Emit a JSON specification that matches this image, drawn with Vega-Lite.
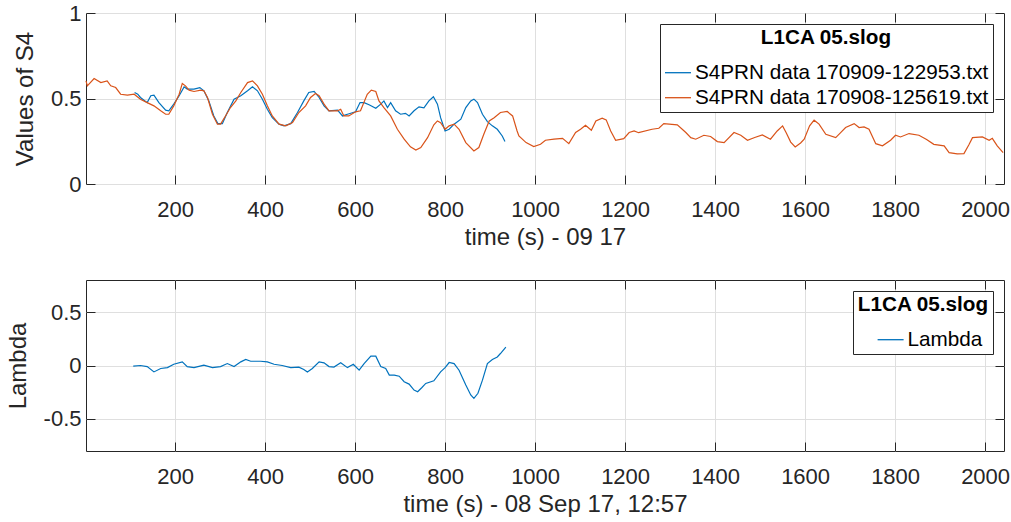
{
  "$schema": "https://vega.github.io/schema/vega-lite/v6.json",
  "background": "white",
  "padding": {"left": 5, "top": 1, "right": 2, "bottom": 3},
  "spacing": 29,
  "datasets": {
    "s4": [
      {"t": 110, "v": 0.535, "series": "S4PRN data 170909-122953.txt"},
      {"t": 117, "v": 0.525, "series": "S4PRN data 170909-122953.txt"},
      {"t": 123, "v": 0.506, "series": "S4PRN data 170909-122953.txt"},
      {"t": 138, "v": 0.476, "series": "S4PRN data 170909-122953.txt"},
      {"t": 146, "v": 0.516, "series": "S4PRN data 170909-122953.txt"},
      {"t": 153, "v": 0.52, "series": "S4PRN data 170909-122953.txt"},
      {"t": 164, "v": 0.476, "series": "S4PRN data 170909-122953.txt"},
      {"t": 179, "v": 0.432, "series": "S4PRN data 170909-122953.txt"},
      {"t": 186, "v": 0.428, "series": "S4PRN data 170909-122953.txt"},
      {"t": 197, "v": 0.467, "series": "S4PRN data 170909-122953.txt"},
      {"t": 209, "v": 0.516, "series": "S4PRN data 170909-122953.txt"},
      {"t": 220, "v": 0.568, "series": "S4PRN data 170909-122953.txt"},
      {"t": 227, "v": 0.555, "series": "S4PRN data 170909-122953.txt"},
      {"t": 242, "v": 0.555, "series": "S4PRN data 170909-122953.txt"},
      {"t": 255, "v": 0.564, "series": "S4PRN data 170909-122953.txt"},
      {"t": 264, "v": 0.545, "series": "S4PRN data 170909-122953.txt"},
      {"t": 275, "v": 0.486, "series": "S4PRN data 170909-122953.txt"},
      {"t": 286, "v": 0.398, "series": "S4PRN data 170909-122953.txt"},
      {"t": 295, "v": 0.353, "series": "S4PRN data 170909-122953.txt"},
      {"t": 305, "v": 0.353, "series": "S4PRN data 170909-122953.txt"},
      {"t": 316, "v": 0.418, "series": "S4PRN data 170909-122953.txt"},
      {"t": 331, "v": 0.496, "series": "S4PRN data 170909-122953.txt"},
      {"t": 346, "v": 0.516, "series": "S4PRN data 170909-122953.txt"},
      {"t": 361, "v": 0.545, "series": "S4PRN data 170909-122953.txt"},
      {"t": 372, "v": 0.568, "series": "S4PRN data 170909-122953.txt"},
      {"t": 383, "v": 0.545, "series": "S4PRN data 170909-122953.txt"},
      {"t": 394, "v": 0.496, "series": "S4PRN data 170909-122953.txt"},
      {"t": 405, "v": 0.437, "series": "S4PRN data 170909-122953.txt"},
      {"t": 416, "v": 0.388, "series": "S4PRN data 170909-122953.txt"},
      {"t": 431, "v": 0.35, "series": "S4PRN data 170909-122953.txt"},
      {"t": 442, "v": 0.34, "series": "S4PRN data 170909-122953.txt"},
      {"t": 457, "v": 0.353, "series": "S4PRN data 170909-122953.txt"},
      {"t": 472, "v": 0.418, "series": "S4PRN data 170909-122953.txt"},
      {"t": 486, "v": 0.486, "series": "S4PRN data 170909-122953.txt"},
      {"t": 497, "v": 0.535, "series": "S4PRN data 170909-122953.txt"},
      {"t": 509, "v": 0.541, "series": "S4PRN data 170909-122953.txt"},
      {"t": 520, "v": 0.506, "series": "S4PRN data 170909-122953.txt"},
      {"t": 531, "v": 0.457, "series": "S4PRN data 170909-122953.txt"},
      {"t": 542, "v": 0.428, "series": "S4PRN data 170909-122953.txt"},
      {"t": 561, "v": 0.432, "series": "S4PRN data 170909-122953.txt"},
      {"t": 572, "v": 0.398, "series": "S4PRN data 170909-122953.txt"},
      {"t": 583, "v": 0.408, "series": "S4PRN data 170909-122953.txt"},
      {"t": 601, "v": 0.422, "series": "S4PRN data 170909-122953.txt"},
      {"t": 611, "v": 0.476, "series": "S4PRN data 170909-122953.txt"},
      {"t": 620, "v": 0.476, "series": "S4PRN data 170909-122953.txt"},
      {"t": 631, "v": 0.463, "series": "S4PRN data 170909-122953.txt"},
      {"t": 646, "v": 0.443, "series": "S4PRN data 170909-122953.txt"},
      {"t": 657, "v": 0.467, "series": "S4PRN data 170909-122953.txt"},
      {"t": 664, "v": 0.486, "series": "S4PRN data 170909-122953.txt"},
      {"t": 672, "v": 0.447, "series": "S4PRN data 170909-122953.txt"},
      {"t": 679, "v": 0.476, "series": "S4PRN data 170909-122953.txt"},
      {"t": 690, "v": 0.428, "series": "S4PRN data 170909-122953.txt"},
      {"t": 701, "v": 0.408, "series": "S4PRN data 170909-122953.txt"},
      {"t": 712, "v": 0.413, "series": "S4PRN data 170909-122953.txt"},
      {"t": 720, "v": 0.398, "series": "S4PRN data 170909-122953.txt"},
      {"t": 731, "v": 0.428, "series": "S4PRN data 170909-122953.txt"},
      {"t": 742, "v": 0.451, "series": "S4PRN data 170909-122953.txt"},
      {"t": 753, "v": 0.445, "series": "S4PRN data 170909-122953.txt"},
      {"t": 764, "v": 0.486, "series": "S4PRN data 170909-122953.txt"},
      {"t": 774, "v": 0.51, "series": "S4PRN data 170909-122953.txt"},
      {"t": 783, "v": 0.467, "series": "S4PRN data 170909-122953.txt"},
      {"t": 790, "v": 0.388, "series": "S4PRN data 170909-122953.txt"},
      {"t": 800, "v": 0.31, "series": "S4PRN data 170909-122953.txt"},
      {"t": 809, "v": 0.32, "series": "S4PRN data 170909-122953.txt"},
      {"t": 820, "v": 0.35, "series": "S4PRN data 170909-122953.txt"},
      {"t": 835, "v": 0.379, "series": "S4PRN data 170909-122953.txt"},
      {"t": 846, "v": 0.447, "series": "S4PRN data 170909-122953.txt"},
      {"t": 857, "v": 0.486, "series": "S4PRN data 170909-122953.txt"},
      {"t": 864, "v": 0.496, "series": "S4PRN data 170909-122953.txt"},
      {"t": 872, "v": 0.476, "series": "S4PRN data 170909-122953.txt"},
      {"t": 883, "v": 0.408, "series": "S4PRN data 170909-122953.txt"},
      {"t": 894, "v": 0.365, "series": "S4PRN data 170909-122953.txt"},
      {"t": 905, "v": 0.34, "series": "S4PRN data 170909-122953.txt"},
      {"t": 916, "v": 0.32, "series": "S4PRN data 170909-122953.txt"},
      {"t": 927, "v": 0.281, "series": "S4PRN data 170909-122953.txt"},
      {"t": 933, "v": 0.248, "series": "S4PRN data 170909-122953.txt"},
      {"t": 2, "v": 0.603, "series": "S4PRN data 170908-125619.txt"},
      {"t": 5, "v": 0.574, "series": "S4PRN data 170908-125619.txt"},
      {"t": 20, "v": 0.617, "series": "S4PRN data 170908-125619.txt"},
      {"t": 35, "v": 0.593, "series": "S4PRN data 170908-125619.txt"},
      {"t": 49, "v": 0.603, "series": "S4PRN data 170908-125619.txt"},
      {"t": 57, "v": 0.574, "series": "S4PRN data 170908-125619.txt"},
      {"t": 68, "v": 0.564, "series": "S4PRN data 170908-125619.txt"},
      {"t": 79, "v": 0.525, "series": "S4PRN data 170908-125619.txt"},
      {"t": 94, "v": 0.52, "series": "S4PRN data 170908-125619.txt"},
      {"t": 109, "v": 0.525, "series": "S4PRN data 170908-125619.txt"},
      {"t": 123, "v": 0.496, "series": "S4PRN data 170908-125619.txt"},
      {"t": 138, "v": 0.476, "series": "S4PRN data 170908-125619.txt"},
      {"t": 153, "v": 0.457, "series": "S4PRN data 170908-125619.txt"},
      {"t": 168, "v": 0.428, "series": "S4PRN data 170908-125619.txt"},
      {"t": 179, "v": 0.408, "series": "S4PRN data 170908-125619.txt"},
      {"t": 186, "v": 0.408, "series": "S4PRN data 170908-125619.txt"},
      {"t": 197, "v": 0.457, "series": "S4PRN data 170908-125619.txt"},
      {"t": 209, "v": 0.525, "series": "S4PRN data 170908-125619.txt"},
      {"t": 216, "v": 0.588, "series": "S4PRN data 170908-125619.txt"},
      {"t": 223, "v": 0.574, "series": "S4PRN data 170908-125619.txt"},
      {"t": 231, "v": 0.549, "series": "S4PRN data 170908-125619.txt"},
      {"t": 242, "v": 0.541, "series": "S4PRN data 170908-125619.txt"},
      {"t": 257, "v": 0.549, "series": "S4PRN data 170908-125619.txt"},
      {"t": 264, "v": 0.545, "series": "S4PRN data 170908-125619.txt"},
      {"t": 272, "v": 0.506, "series": "S4PRN data 170908-125619.txt"},
      {"t": 283, "v": 0.408, "series": "S4PRN data 170908-125619.txt"},
      {"t": 294, "v": 0.35, "series": "S4PRN data 170908-125619.txt"},
      {"t": 301, "v": 0.35, "series": "S4PRN data 170908-125619.txt"},
      {"t": 312, "v": 0.398, "series": "S4PRN data 170908-125619.txt"},
      {"t": 323, "v": 0.447, "series": "S4PRN data 170908-125619.txt"},
      {"t": 335, "v": 0.486, "series": "S4PRN data 170908-125619.txt"},
      {"t": 346, "v": 0.535, "series": "S4PRN data 170908-125619.txt"},
      {"t": 361, "v": 0.593, "series": "S4PRN data 170908-125619.txt"},
      {"t": 372, "v": 0.603, "series": "S4PRN data 170908-125619.txt"},
      {"t": 383, "v": 0.574, "series": "S4PRN data 170908-125619.txt"},
      {"t": 394, "v": 0.525, "series": "S4PRN data 170908-125619.txt"},
      {"t": 405, "v": 0.457, "series": "S4PRN data 170908-125619.txt"},
      {"t": 416, "v": 0.398, "series": "S4PRN data 170908-125619.txt"},
      {"t": 431, "v": 0.35, "series": "S4PRN data 170908-125619.txt"},
      {"t": 446, "v": 0.34, "series": "S4PRN data 170908-125619.txt"},
      {"t": 461, "v": 0.359, "series": "S4PRN data 170908-125619.txt"},
      {"t": 475, "v": 0.418, "series": "S4PRN data 170908-125619.txt"},
      {"t": 490, "v": 0.457, "series": "S4PRN data 170908-125619.txt"},
      {"t": 501, "v": 0.506, "series": "S4PRN data 170908-125619.txt"},
      {"t": 512, "v": 0.529, "series": "S4PRN data 170908-125619.txt"},
      {"t": 520, "v": 0.516, "series": "S4PRN data 170908-125619.txt"},
      {"t": 531, "v": 0.467, "series": "S4PRN data 170908-125619.txt"},
      {"t": 542, "v": 0.428, "series": "S4PRN data 170908-125619.txt"},
      {"t": 561, "v": 0.428, "series": "S4PRN data 170908-125619.txt"},
      {"t": 568, "v": 0.437, "series": "S4PRN data 170908-125619.txt"},
      {"t": 575, "v": 0.398, "series": "S4PRN data 170908-125619.txt"},
      {"t": 586, "v": 0.398, "series": "S4PRN data 170908-125619.txt"},
      {"t": 601, "v": 0.422, "series": "S4PRN data 170908-125619.txt"},
      {"t": 612, "v": 0.428, "series": "S4PRN data 170908-125619.txt"},
      {"t": 627, "v": 0.525, "series": "S4PRN data 170908-125619.txt"},
      {"t": 636, "v": 0.549, "series": "S4PRN data 170908-125619.txt"},
      {"t": 646, "v": 0.541, "series": "S4PRN data 170908-125619.txt"},
      {"t": 653, "v": 0.486, "series": "S4PRN data 170908-125619.txt"},
      {"t": 664, "v": 0.447, "series": "S4PRN data 170908-125619.txt"},
      {"t": 679, "v": 0.398, "series": "S4PRN data 170908-125619.txt"},
      {"t": 694, "v": 0.32, "series": "S4PRN data 170908-125619.txt"},
      {"t": 709, "v": 0.262, "series": "S4PRN data 170908-125619.txt"},
      {"t": 723, "v": 0.217, "series": "S4PRN data 170908-125619.txt"},
      {"t": 735, "v": 0.199, "series": "S4PRN data 170908-125619.txt"},
      {"t": 746, "v": 0.213, "series": "S4PRN data 170908-125619.txt"},
      {"t": 761, "v": 0.271, "series": "S4PRN data 170908-125619.txt"},
      {"t": 775, "v": 0.346, "series": "S4PRN data 170908-125619.txt"},
      {"t": 783, "v": 0.369, "series": "S4PRN data 170908-125619.txt"},
      {"t": 790, "v": 0.359, "series": "S4PRN data 170908-125619.txt"},
      {"t": 800, "v": 0.32, "series": "S4PRN data 170908-125619.txt"},
      {"t": 809, "v": 0.34, "series": "S4PRN data 170908-125619.txt"},
      {"t": 820, "v": 0.35, "series": "S4PRN data 170908-125619.txt"},
      {"t": 831, "v": 0.32, "series": "S4PRN data 170908-125619.txt"},
      {"t": 846, "v": 0.242, "series": "S4PRN data 170908-125619.txt"},
      {"t": 864, "v": 0.193, "series": "S4PRN data 170908-125619.txt"},
      {"t": 875, "v": 0.213, "series": "S4PRN data 170908-125619.txt"},
      {"t": 886, "v": 0.291, "series": "S4PRN data 170908-125619.txt"},
      {"t": 898, "v": 0.369, "series": "S4PRN data 170908-125619.txt"},
      {"t": 909, "v": 0.388, "series": "S4PRN data 170908-125619.txt"},
      {"t": 923, "v": 0.418, "series": "S4PRN data 170908-125619.txt"},
      {"t": 938, "v": 0.424, "series": "S4PRN data 170908-125619.txt"},
      {"t": 950, "v": 0.398, "series": "S4PRN data 170908-125619.txt"},
      {"t": 960, "v": 0.31, "series": "S4PRN data 170908-125619.txt"},
      {"t": 964, "v": 0.281, "series": "S4PRN data 170908-125619.txt"},
      {"t": 980, "v": 0.242, "series": "S4PRN data 170908-125619.txt"},
      {"t": 997, "v": 0.219, "series": "S4PRN data 170908-125619.txt"},
      {"t": 1012, "v": 0.232, "series": "S4PRN data 170908-125619.txt"},
      {"t": 1023, "v": 0.256, "series": "S4PRN data 170908-125619.txt"},
      {"t": 1042, "v": 0.262, "series": "S4PRN data 170908-125619.txt"},
      {"t": 1061, "v": 0.267, "series": "S4PRN data 170908-125619.txt"},
      {"t": 1075, "v": 0.236, "series": "S4PRN data 170908-125619.txt"},
      {"t": 1090, "v": 0.301, "series": "S4PRN data 170908-125619.txt"},
      {"t": 1101, "v": 0.32, "series": "S4PRN data 170908-125619.txt"},
      {"t": 1112, "v": 0.344, "series": "S4PRN data 170908-125619.txt"},
      {"t": 1125, "v": 0.314, "series": "S4PRN data 170908-125619.txt"},
      {"t": 1135, "v": 0.369, "series": "S4PRN data 170908-125619.txt"},
      {"t": 1149, "v": 0.385, "series": "S4PRN data 170908-125619.txt"},
      {"t": 1158, "v": 0.375, "series": "S4PRN data 170908-125619.txt"},
      {"t": 1168, "v": 0.31, "series": "S4PRN data 170908-125619.txt"},
      {"t": 1179, "v": 0.256, "series": "S4PRN data 170908-125619.txt"},
      {"t": 1197, "v": 0.265, "series": "S4PRN data 170908-125619.txt"},
      {"t": 1209, "v": 0.301, "series": "S4PRN data 170908-125619.txt"},
      {"t": 1220, "v": 0.31, "series": "S4PRN data 170908-125619.txt"},
      {"t": 1230, "v": 0.3, "series": "S4PRN data 170908-125619.txt"},
      {"t": 1260, "v": 0.32, "series": "S4PRN data 170908-125619.txt"},
      {"t": 1275, "v": 0.326, "series": "S4PRN data 170908-125619.txt"},
      {"t": 1286, "v": 0.353, "series": "S4PRN data 170908-125619.txt"},
      {"t": 1316, "v": 0.346, "series": "S4PRN data 170908-125619.txt"},
      {"t": 1335, "v": 0.301, "series": "S4PRN data 170908-125619.txt"},
      {"t": 1346, "v": 0.271, "series": "S4PRN data 170908-125619.txt"},
      {"t": 1357, "v": 0.262, "series": "S4PRN data 170908-125619.txt"},
      {"t": 1375, "v": 0.285, "series": "S4PRN data 170908-125619.txt"},
      {"t": 1390, "v": 0.278, "series": "S4PRN data 170908-125619.txt"},
      {"t": 1405, "v": 0.248, "series": "S4PRN data 170908-125619.txt"},
      {"t": 1420, "v": 0.242, "series": "S4PRN data 170908-125619.txt"},
      {"t": 1442, "v": 0.301, "series": "S4PRN data 170908-125619.txt"},
      {"t": 1457, "v": 0.285, "series": "S4PRN data 170908-125619.txt"},
      {"t": 1472, "v": 0.256, "series": "S4PRN data 170908-125619.txt"},
      {"t": 1488, "v": 0.272, "series": "S4PRN data 170908-125619.txt"},
      {"t": 1505, "v": 0.287, "series": "S4PRN data 170908-125619.txt"},
      {"t": 1523, "v": 0.262, "series": "S4PRN data 170908-125619.txt"},
      {"t": 1538, "v": 0.31, "series": "S4PRN data 170908-125619.txt"},
      {"t": 1550, "v": 0.34, "series": "S4PRN data 170908-125619.txt"},
      {"t": 1558, "v": 0.3, "series": "S4PRN data 170908-125619.txt"},
      {"t": 1568, "v": 0.245, "series": "S4PRN data 170908-125619.txt"},
      {"t": 1578, "v": 0.217, "series": "S4PRN data 170908-125619.txt"},
      {"t": 1590, "v": 0.24, "series": "S4PRN data 170908-125619.txt"},
      {"t": 1598, "v": 0.262, "series": "S4PRN data 170908-125619.txt"},
      {"t": 1610, "v": 0.34, "series": "S4PRN data 170908-125619.txt"},
      {"t": 1620, "v": 0.373, "series": "S4PRN data 170908-125619.txt"},
      {"t": 1631, "v": 0.35, "series": "S4PRN data 170908-125619.txt"},
      {"t": 1646, "v": 0.291, "series": "S4PRN data 170908-125619.txt"},
      {"t": 1668, "v": 0.271, "series": "S4PRN data 170908-125619.txt"},
      {"t": 1679, "v": 0.3, "series": "S4PRN data 170908-125619.txt"},
      {"t": 1690, "v": 0.33, "series": "S4PRN data 170908-125619.txt"},
      {"t": 1709, "v": 0.353, "series": "S4PRN data 170908-125619.txt"},
      {"t": 1720, "v": 0.33, "series": "S4PRN data 170908-125619.txt"},
      {"t": 1731, "v": 0.334, "series": "S4PRN data 170908-125619.txt"},
      {"t": 1742, "v": 0.32, "series": "S4PRN data 170908-125619.txt"},
      {"t": 1757, "v": 0.236, "series": "S4PRN data 170908-125619.txt"},
      {"t": 1772, "v": 0.223, "series": "S4PRN data 170908-125619.txt"},
      {"t": 1790, "v": 0.256, "series": "S4PRN data 170908-125619.txt"},
      {"t": 1801, "v": 0.285, "series": "S4PRN data 170908-125619.txt"},
      {"t": 1812, "v": 0.275, "series": "S4PRN data 170908-125619.txt"},
      {"t": 1831, "v": 0.295, "series": "S4PRN data 170908-125619.txt"},
      {"t": 1853, "v": 0.285, "series": "S4PRN data 170908-125619.txt"},
      {"t": 1870, "v": 0.26, "series": "S4PRN data 170908-125619.txt"},
      {"t": 1886, "v": 0.232, "series": "S4PRN data 170908-125619.txt"},
      {"t": 1909, "v": 0.223, "series": "S4PRN data 170908-125619.txt"},
      {"t": 1920, "v": 0.183, "series": "S4PRN data 170908-125619.txt"},
      {"t": 1938, "v": 0.176, "series": "S4PRN data 170908-125619.txt"},
      {"t": 1953, "v": 0.178, "series": "S4PRN data 170908-125619.txt"},
      {"t": 1964, "v": 0.23, "series": "S4PRN data 170908-125619.txt"},
      {"t": 1972, "v": 0.271, "series": "S4PRN data 170908-125619.txt"},
      {"t": 1994, "v": 0.275, "series": "S4PRN data 170908-125619.txt"},
      {"t": 2009, "v": 0.256, "series": "S4PRN data 170908-125619.txt"},
      {"t": 2016, "v": 0.267, "series": "S4PRN data 170908-125619.txt"},
      {"t": 2027, "v": 0.223, "series": "S4PRN data 170908-125619.txt"},
      {"t": 2040, "v": 0.183, "series": "S4PRN data 170908-125619.txt"}
    ],
    "lam": [
      {"t": 107, "v": -0.006, "series": "Lambda"},
      {"t": 123, "v": 0.0, "series": "Lambda"},
      {"t": 138, "v": -0.01, "series": "Lambda"},
      {"t": 153, "v": -0.06, "series": "Lambda"},
      {"t": 168, "v": -0.028, "series": "Lambda"},
      {"t": 183, "v": -0.02, "series": "Lambda"},
      {"t": 197, "v": 0.012, "series": "Lambda"},
      {"t": 216, "v": 0.034, "series": "Lambda"},
      {"t": 227, "v": -0.01, "series": "Lambda"},
      {"t": 242, "v": -0.02, "series": "Lambda"},
      {"t": 264, "v": 0.003, "series": "Lambda"},
      {"t": 283, "v": -0.02, "series": "Lambda"},
      {"t": 301, "v": -0.01, "series": "Lambda"},
      {"t": 316, "v": 0.018, "series": "Lambda"},
      {"t": 331, "v": -0.01, "series": "Lambda"},
      {"t": 346, "v": 0.034, "series": "Lambda"},
      {"t": 357, "v": 0.056, "series": "Lambda"},
      {"t": 368, "v": 0.04, "series": "Lambda"},
      {"t": 390, "v": 0.04, "series": "Lambda"},
      {"t": 405, "v": 0.034, "series": "Lambda"},
      {"t": 420, "v": 0.012, "series": "Lambda"},
      {"t": 438, "v": 0.0, "series": "Lambda"},
      {"t": 457, "v": -0.02, "series": "Lambda"},
      {"t": 475, "v": -0.015, "series": "Lambda"},
      {"t": 486, "v": -0.037, "series": "Lambda"},
      {"t": 494, "v": -0.06, "series": "Lambda"},
      {"t": 505, "v": -0.028, "series": "Lambda"},
      {"t": 520, "v": 0.034, "series": "Lambda"},
      {"t": 531, "v": 0.025, "series": "Lambda"},
      {"t": 542, "v": -0.01, "series": "Lambda"},
      {"t": 553, "v": -0.015, "series": "Lambda"},
      {"t": 568, "v": 0.025, "series": "Lambda"},
      {"t": 583, "v": -0.02, "series": "Lambda"},
      {"t": 596, "v": 0.012, "series": "Lambda"},
      {"t": 609, "v": -0.044, "series": "Lambda"},
      {"t": 620, "v": 0.018, "series": "Lambda"},
      {"t": 635, "v": 0.087, "series": "Lambda"},
      {"t": 646, "v": 0.087, "series": "Lambda"},
      {"t": 657, "v": -0.01, "series": "Lambda"},
      {"t": 668, "v": -0.028, "series": "Lambda"},
      {"t": 676, "v": -0.09, "series": "Lambda"},
      {"t": 687, "v": -0.09, "series": "Lambda"},
      {"t": 698, "v": -0.1, "series": "Lambda"},
      {"t": 709, "v": -0.152, "series": "Lambda"},
      {"t": 720, "v": -0.174, "series": "Lambda"},
      {"t": 731, "v": -0.23, "series": "Lambda"},
      {"t": 739, "v": -0.246, "series": "Lambda"},
      {"t": 748, "v": -0.208, "series": "Lambda"},
      {"t": 757, "v": -0.168, "series": "Lambda"},
      {"t": 775, "v": -0.143, "series": "Lambda"},
      {"t": 790, "v": -0.06, "series": "Lambda"},
      {"t": 800, "v": -0.02, "series": "Lambda"},
      {"t": 809, "v": 0.028, "series": "Lambda"},
      {"t": 820, "v": 0.018, "series": "Lambda"},
      {"t": 831, "v": -0.044, "series": "Lambda"},
      {"t": 846, "v": -0.183, "series": "Lambda"},
      {"t": 857, "v": -0.276, "series": "Lambda"},
      {"t": 864, "v": -0.307, "series": "Lambda"},
      {"t": 873, "v": -0.26, "series": "Lambda"},
      {"t": 883, "v": -0.137, "series": "Lambda"},
      {"t": 894, "v": 0.018, "series": "Lambda"},
      {"t": 905, "v": 0.056, "series": "Lambda"},
      {"t": 916, "v": 0.08, "series": "Lambda"},
      {"t": 923, "v": 0.112, "series": "Lambda"},
      {"t": 935, "v": 0.173, "series": "Lambda"}
    ]
  },
  "vconcat": [
    {
      "width": 918,
      "height": 171,
      "data": {"name": "s4"},
      "layer": [
        {
          "mark": {"type": "line", "strokeWidth": 1.2},
          "encoding": {
            "x": {"field": "t", "type": "quantitative",
              "scale": {"domain": [2, 2042], "nice": false, "zero": false},
              "axis": {"orient": "bottom", "title": "time (s) - 09 17", "values": [200, 400, 600, 800, 1000, 1200, 1400, 1600, 1800, 2000], "labelPadding": 24, "titlePadding": 5}},
            "y": {"field": "v", "type": "quantitative",
              "scale": {"domain": [0, 1], "nice": false, "zero": false},
              "axis": {"orient": "left", "title": "Values of S4", "values": [0, 0.5, 1], "labelPadding": 14, "titlePadding": 13}},
            "color": {"field": "series", "type": "nominal",
              "scale": {"domain": ["S4PRN data 170909-122953.txt", "S4PRN data 170908-125619.txt"], "range": ["#0072BD", "#D95319"]},
              "legend": {"title": "L1CA 05.slog"}}
          }
        },
        {
          "mark": {"type": "line", "opacity": 0},
          "encoding": {
            "x": {"field": "t", "type": "quantitative",
              "axis": {"orient": "top", "title": null, "labels": false, "grid": false, "values": [200, 400, 600, 800, 1000, 1200, 1400, 1600, 1800, 2000]}},
            "y": {"field": "v", "type": "quantitative",
              "axis": {"orient": "right", "title": null, "labels": false, "grid": false, "values": [0, 0.5, 1]}},
            "detail": {"field": "series"}
          }
        }
      ]
    },
    {
      "width": 918,
      "height": 171,
      "data": {"name": "lam"},
      "layer": [
        {
          "mark": {"type": "line", "strokeWidth": 1.2},
          "encoding": {
            "x": {"field": "t", "type": "quantitative",
              "scale": {"domain": [2, 2042], "nice": false, "zero": false},
              "axis": {"orient": "bottom", "title": "time (s) - 08 Sep 17, 12:57", "values": [200, 400, 600, 800, 1000, 1200, 1400, 1600, 1800, 2000], "labelPadding": 24, "titlePadding": 5}},
            "y": {"field": "v", "type": "quantitative",
              "scale": {"domain": [-0.8, 0.8], "nice": false, "zero": false},
              "axis": {"orient": "left", "title": "Lambda", "values": [-0.5, 0, 0.5], "labelPadding": 14, "titlePadding": 13}},
            "color": {"field": "series", "type": "nominal",
              "scale": {"domain": ["Lambda"], "range": ["#0072BD"]},
              "legend": {"title": "L1CA 05.slog", "symbolOffset": 13.6, "labelOffset": 3}}
          }
        },
        {
          "mark": {"type": "line", "opacity": 0},
          "encoding": {
            "x": {"field": "t", "type": "quantitative",
              "axis": {"orient": "top", "title": null, "labels": false, "grid": false, "values": [200, 400, 600, 800, 1000, 1200, 1400, 1600, 1800, 2000]}},
            "y": {"field": "v", "type": "quantitative",
              "axis": {"orient": "right", "title": null, "labels": false, "grid": false, "values": [-0.5, 0, 0.5]}}
          }
        }
      ]
    }
  ],
  "resolve": {
    "scale": {"x": "independent", "y": "independent", "color": "independent"},
    "legend": {"color": "independent"}
  },
  "config": {
    "font": "Liberation Sans",
    "view": {"stroke": "#262626", "strokeWidth": 1},
    "axis": {
      "domain": false,
      "labelFont": "Liberation Sans",
      "labelFontSize": 22,
      "labelColor": "#262626",
      "labelFlush": false,
      "labelOverlap": false,
      "labelExpr": "toString(datum.value)",
      "titleFont": "Liberation Sans",
      "titleFontSize": 24,
      "titleFontWeight": "normal",
      "titleColor": "#262626",
      "tickColor": "#262626",
      "tickSize": -9,
      "tickWidth": 1,
      "gridColor": "#dfdfdf",
      "gridWidth": 1
    },
    "legend": {
      "orient": "top-right",
      "offset": 11,
      "padding": 4,
      "strokeColor": "#262626",
      "fillColor": "white",
      "titleFont": "Liberation Sans",
      "titleFontSize": 20.7,
      "titleFontWeight": "bold",
      "titleColor": "#000000",
      "titleAnchor": "middle",
      "titlePadding": 10,
      "titleLimit": 400,
      "labelFont": "Liberation Sans",
      "labelFontSize": 20.7,
      "labelColor": "#000000",
      "labelLimit": 400,
      "labelOffset": 3,
      "symbolType": "stroke",
      "symbolSize": 676,
      "symbolStrokeWidth": 1.3,
      "rowPadding": 1
    }
  }
}
